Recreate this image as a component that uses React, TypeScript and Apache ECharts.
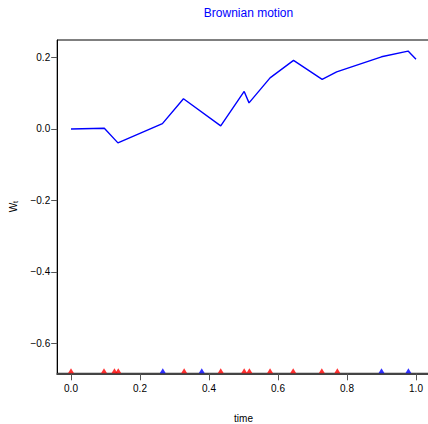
import React, { useEffect, useRef } from "react";
import * as echarts from "echarts";

// Brownian path: time points and W_t values
const pathTimes = [0, 0.0966, 0.136, 0.265, 0.326, 0.434, 0.502, 0.516, 0.577, 0.645, 0.728, 0.77, 0.9, 0.977, 1.0];
const pathValues = [0, 0.002, -0.039, 0.015, 0.0845, 0.0085, 0.105, 0.073, 0.143, 0.192, 0.139, 0.16, 0.202, 0.218, 0.195];

// Event times marked along the bottom axis
const redTimes = [0, 0.0957, 0.126, 0.137, 0.328, 0.434, 0.502, 0.517, 0.577, 0.644, 0.727, 0.772];
const blueTimes = [0.266, 0.379, 0.9, 0.978];

const xTicks = [0, 0.2, 0.4, 0.6, 0.8, 1.0];
const yTicks = [-0.6, -0.4, -0.2, 0.0, 0.2];

const X_MIN = -0.04;
const X_MAX = 1.04;
const Y_MIN = -0.684;
const Y_MAX = 0.249;

const FONT = "Liberation Sans, Arial, Helvetica, sans-serif";

export default function App() {
  const ref = useRef<HTMLDivElement>(null);

  useEffect(() => {
    document.body.style.margin = "0";
    if (!ref.current) return;
    const chart = echarts.init(ref.current, undefined, { renderer: "svg" });

    const marker = (times: number[], color: string, name: string) => ({
      name,
      type: "scatter",
      data: times.map((t) => [t, Y_MIN]),
      symbol: "triangle",
      symbolSize: [6, 5],
      symbolOffset: [0, -2.5],
      itemStyle: { color },
      clip: false,
      z: 5,
    });

    chart.setOption({
      animation: false,
      backgroundColor: "#ffffff",
      title: {
        text: "Brownian motion",
        left: 243.5,
        textAlign: "center",
        top: 2,
        textStyle: { color: "#0000ff", fontFamily: FONT, fontSize: 12, fontWeight: "normal" },
      },
      grid: {
        left: 57.2,
        top: 40,
        width: 372.6,
        height: 333.3,
        containLabel: false,
        outerBoundsMode: "none",
        show: true,
        borderColor: "#000000",
        borderWidth: 1,
        backgroundColor: "transparent",
      },
      xAxis: {
        type: "value",
        min: X_MIN,
        max: X_MAX,
        name: "time",
        nameLocation: "middle",
        nameGap: 40,
        nameTextStyle: { color: "#000", fontFamily: FONT, fontSize: 10 },
        splitLine: { show: false },
        axisLine: { show: true, onZero: false, lineStyle: { color: "#444444", width: 2 } },
        axisTick: { show: true, length: 7, customValues: xTicks, lineStyle: { color: "#555" } },
        axisLabel: {
          customValues: xTicks,
          margin: 10,
          color: "#000",
          fontFamily: FONT,
          fontSize: 10,
          formatter: (v: number) => v.toFixed(1),
        },
      },
      yAxis: {
        type: "value",
        min: Y_MIN,
        max: Y_MAX,
        name: "{w|W}{t|t}",
        nameLocation: "middle",
        nameRotate: 90,
        nameGap: 38,
        nameTextStyle: {
          color: "#000",
          fontFamily: FONT,
          rich: {
            w: { fontFamily: FONT, fontSize: 10, color: "#000" },
            t: { fontFamily: FONT, fontSize: 7, color: "#000", verticalAlign: "bottom", padding: [4, 0, 0, 0] },
          },
        },
        splitLine: { show: false },
        axisLine: { show: true, onZero: false, lineStyle: { color: "#000", width: 1 } },
        axisTick: { show: true, length: 6, customValues: yTicks, lineStyle: { color: "#555" } },
        axisLabel: {
          customValues: yTicks,
          margin: 7,
          color: "#000",
          fontFamily: FONT,
          fontSize: 10,
          formatter: (v: number) => (v < 0 ? "\u2212" + Math.abs(v).toFixed(1) : v.toFixed(1)),
        },
      },
      series: [
        {
          name: "W",
          type: "line",
          data: pathTimes.map((t, i) => [t, pathValues[i]]),
          showSymbol: false,
          lineStyle: { color: "#0000ff", width: 1.4 },
          z: 3,
        },
        marker(redTimes, "#ff0000", "red"),
        marker(blueTimes, "#0000ff", "blue"),
      ],
    });

    return () => chart.dispose();
  }, []);

  return <div ref={ref} style={{ width: 428, height: 424 }} />;
}
